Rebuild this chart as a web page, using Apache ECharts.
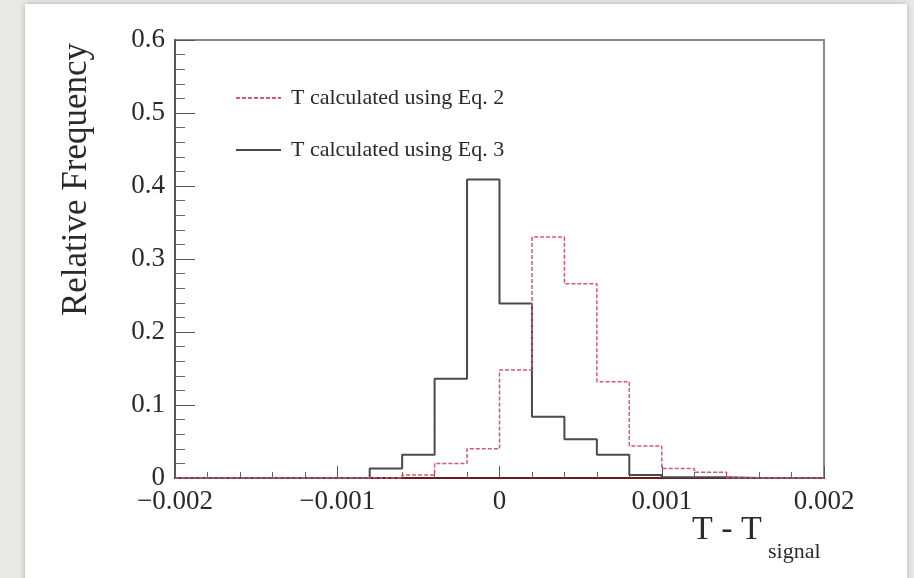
<!DOCTYPE html>
<html>
<head>
<meta charset="utf-8">
<script src="https://cdn.jsdelivr.net/npm/echarts@6/dist/echarts.min.js"></script>
<style>
  html, body { margin: 0; padding: 0; }
  #wrap { position: relative; width: 914px; height: 578px; background: #e9e9e7; overflow: hidden; }
  #panel { position: absolute; left: 25px; top: 4px; width: 882px; height: 600px; background: #fff;
           box-shadow: 0 0 6px rgba(0, 0, 0, 0.25); }
  #main { position: absolute; left: 0; top: 0; width: 914px; height: 578px; }
</style>
</head>
<body>
<div id="wrap">
  <div id="panel"></div>
  <div id="main"></div>
</div>
<script>
  // bin edges (21 edges -> 20 bins of width 0.0002)
  const binEdges = [-0.002, -0.0018, -0.0016, -0.0014, -0.0012, -0.001, -0.0008, -0.0006, -0.0004, -0.0002,
    0, 0.0002, 0.0004, 0.0006, 0.0008, 0.001, 0.0012, 0.0014, 0.0016, 0.0018, 0.002]
  // relative frequency per bin
  const eq2Values = [0, 0, 0, 0, 0, 0, 0, 0.004, 0.020, 0.040,
    0.148, 0.330, 0.266, 0.132, 0.044, 0.013, 0.008, 0, 0, 0]
  const eq3Values = [0, 0, 0, 0, 0, 0, 0.013, 0.032, 0.136, 0.409,
    0.239, 0.084, 0.053, 0.032, 0.004, 0.001, 0.001, 0, 0, 0]
  const seriesNames = ['T calculated using Eq. 2', 'T calculated using Eq. 3']
  const xTickLabels = ['\u22120.002', '\u22120.001', '0', '0.001', '0.002']
  const yTickLabels = ['0', '0.1', '0.2', '0.3', '0.4', '0.5', '0.6']

  // step data: each bin start with its value, plus the closing edge
  function stepData (values) {
    const d = values.map((v, i) => [binEdges[i], v])
    d.push([binEdges[binEdges.length - 1], values[values.length - 1]])
    return d
  }

  const serif = 'Liberation Serif'
  const chart = echarts.init(document.getElementById('main'))
  chart.setOption({
    backgroundColor: 'transparent',
    animation: false,
    grid: {
      left: 175, right: 90, top: 40, bottom: 100,
      show: true, borderColor: '#8a8a8a', borderWidth: 2,
      outerBoundsMode: 'none'
    },
    legend: {
      orient: 'vertical',
      left: 230, top: 82,
      itemWidth: 45, itemHeight: 14, itemGap: 30,
      itemStyle: { opacity: 0 },
      textStyle: { fontFamily: serif, fontSize: 22, color: '#2a2a2a', padding: [0, 0, 0, 5] },
      data: seriesNames
    },
    xAxis: {
      type: 'value',
      min: -0.002, max: 0.002, interval: 0.001,
      axisLine: { onZero: false, lineStyle: { color: '#6a1c1c', width: 2 } },
      axisTick: { inside: true, length: 12, lineStyle: { color: '#555' } },
      minorTick: { show: true, splitNumber: 5, length: 6, lineStyle: { color: '#666' } },
      splitLine: { show: false },
      axisLabel: {
        margin: 10, fontFamily: serif, fontSize: 27, color: '#2a2a2a',
        formatter: (v, i) => xTickLabels[i]
      }
    },
    yAxis: {
      type: 'value',
      min: 0, max: 0.6, interval: 0.1,
      axisLine: { onZero: false, lineStyle: { color: '#555', width: 2 } },
      axisTick: { inside: true, length: 20, lineStyle: { color: '#555' } },
      minorTick: { show: true, splitNumber: 5, length: 10, lineStyle: { color: '#666' } },
      splitLine: { show: false },
      axisLabel: {
        margin: 10, fontFamily: serif, fontSize: 27, color: '#2a2a2a',
        formatter: (v, i) => yTickLabels[i]
      }
    },
    graphic: [
      {
        type: 'text', left: 59, top: 43, rotation: Math.PI / 2,
        style: { text: 'Relative Frequency', fontFamily: serif, fontSize: 35, fill: '#2a2a2a' }
      },
      {
        type: 'text', left: 692, top: 513,
        style: { text: 'T - T', fontFamily: serif, fontSize: 34, fill: '#2a2a2a' }
      },
      {
        type: 'text', left: 768, top: 541,
        style: { text: 'signal', fontFamily: serif, fontSize: 22, fill: '#2a2a2a' }
      }
    ],
    series: [
      {
        name: seriesNames[1],
        type: 'line',
        step: 'end',
        symbol: 'none',
        z: 2,
        lineStyle: { color: '#4a4a4a', width: 2 },
        itemStyle: { color: '#4a4a4a' },
        data: stepData(eq3Values)
      },
      {
        name: seriesNames[0],
        type: 'line',
        step: 'end',
        symbol: 'none',
        z: 3,
        lineStyle: { color: '#d0587a', width: 1.5, type: [4, 2] },
        itemStyle: { color: '#d0587a' },
        data: stepData(eq2Values)
      }
    ]
  })
</script>
</body>
</html>
